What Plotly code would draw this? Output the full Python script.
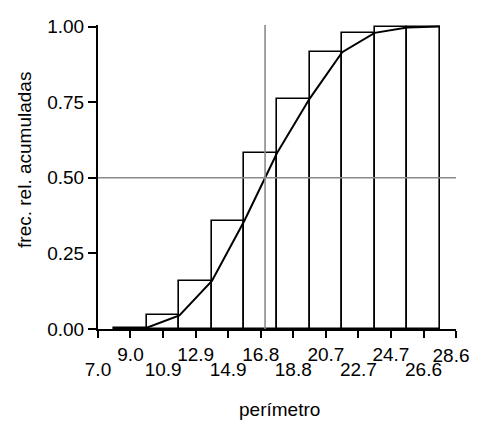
import plotly.graph_objects as go

# ---- data ----
tick_values = [7.0, 8.96, 10.93, 12.89, 14.85, 16.82, 18.78, 20.75, 22.71, 24.67, 26.64, 28.6]
tick_labels = ["7.0", "9.0", "10.9", "12.9", "14.9", "16.8", "18.8", "20.7", "22.7", "24.7", "26.6", "28.6"]
class_marks = [8.96, 10.93, 12.89, 14.85, 16.82, 18.78, 20.75, 22.71, 24.67, 26.64]
cum_rel_freq = [0.004, 0.045, 0.159, 0.358, 0.582, 0.761, 0.915, 0.979, 0.997, 1.0]
bin_width = 1.9636
median_value = 17.08
y_ticks = [0.0, 0.25, 0.5, 0.75, 1.0]
y_tick_labels = ["0.00", "0.25", "0.50", "0.75", "1.00"]

FONT = "Liberation Sans, Arial, sans-serif"

# ogive points: upper class limits
ogive_x = [class_marks[0] - bin_width / 2] + [m + bin_width / 2 for m in class_marks]
ogive_y = [0.0] + cum_rel_freq

# alternate tick labels on two rows; the last label goes on its own axis
top_row = [t if (i % 2 == 1 and i < len(tick_labels) - 1) else "" for i, t in enumerate(tick_labels)]
bottom_row = [t if i % 2 == 0 else "" for i, t in enumerate(tick_labels)]

fig = go.Figure()
fig.add_trace(go.Bar(
    x=class_marks, y=cum_rel_freq, width=[bin_width] * len(class_marks),
    marker=dict(color="white", line=dict(color="black", width=1.6)),
    hoverinfo="skip",
))
fig.add_trace(go.Scatter(
    x=ogive_x, y=ogive_y, mode="lines",
    line=dict(color="black", width=2), hoverinfo="skip",
))
# invisible traces to activate the extra label axes
for ax in ["x2", "x3"]:
    fig.add_trace(go.Scatter(x=[tick_values[0]], y=[0], xaxis=ax, mode="markers",
                             marker=dict(opacity=0), hoverinfo="skip"))

# reference lines
fig.add_shape(type="line", xref="paper", x0=0, x1=1, yref="y", y0=0.5, y1=0.5,
              line=dict(color="#8a8a8a", width=1.6), layer="above")
fig.add_shape(type="line", xref="x", x0=median_value, x1=median_value, yref="paper", y0=0, y1=1,
              line=dict(color="#8a8a8a", width=1.6), layer="above")

tickfont = dict(family=FONT, size=19, color="black")
fig.update_layout(
    width=470, height=413,
    margin=dict(l=90, r=22, t=17, b=92),
    paper_bgcolor="white", plot_bgcolor="white",
    showlegend=False,
    font=dict(family=FONT, size=19, color="black"),
    bargap=0,
    xaxis=dict(
        range=[7.0, 28.6], tickmode="array", tickvals=tick_values, ticktext=top_row,
        showline=True, linecolor="black", linewidth=2, ticks="outside", ticklen=7,
        tickwidth=2, tickcolor="black", showgrid=False, zeroline=False,
        tickfont=tickfont, tickangle=0, automargin=False, ticklabelstandoff=0,
        ticklabeloverflow="allow",
    ),
    xaxis2=dict(
        range=[7.0, 28.6], overlaying="x", side="bottom", anchor="y",
        tickmode="array", tickvals=tick_values, ticktext=bottom_row,
        showline=False, ticks="", showgrid=False, zeroline=False,
        tickfont=tickfont, tickangle=0, automargin=False, ticklabelstandoff=27,
        ticklabeloverflow="allow",
    ),
    xaxis3=dict(
        range=[7.0, 28.6], overlaying="x", side="bottom", anchor="y",
        tickmode="array", tickvals=[tick_values[-1]], ticktext=[tick_labels[-1]],
        showline=False, ticks="", showgrid=False, zeroline=False,
        tickfont=tickfont, tickangle=0, automargin=False, ticklabelstandoff=13,
        ticklabelshift=-5, ticklabeloverflow="allow",
    ),
    yaxis=dict(
        range=[0, 1.005], tickmode="array", tickvals=y_ticks, ticktext=y_tick_labels,
        showline=True, linecolor="black", linewidth=2, ticks="outside", ticklen=8,
        tickwidth=2, tickcolor="black", showgrid=False, zeroline=False,
        tickfont=tickfont, automargin=False,
    ),
)
fig.add_annotation(text="frec. rel. acumuladas", xref="paper", yref="paper",
                   x=-0.204, y=0.556, textangle=-90, showarrow=False,
                   font=dict(family=FONT, size=19, color="black"),
                   xanchor="center", yanchor="middle")
fig.add_annotation(text="perímetro", xref="paper", yref="paper",
                   x=0.506, y=-0.266, showarrow=False,
                   font=dict(family=FONT, size=19, color="black"),
                   xanchor="center", yanchor="middle")

fig.write_html("out.html")
